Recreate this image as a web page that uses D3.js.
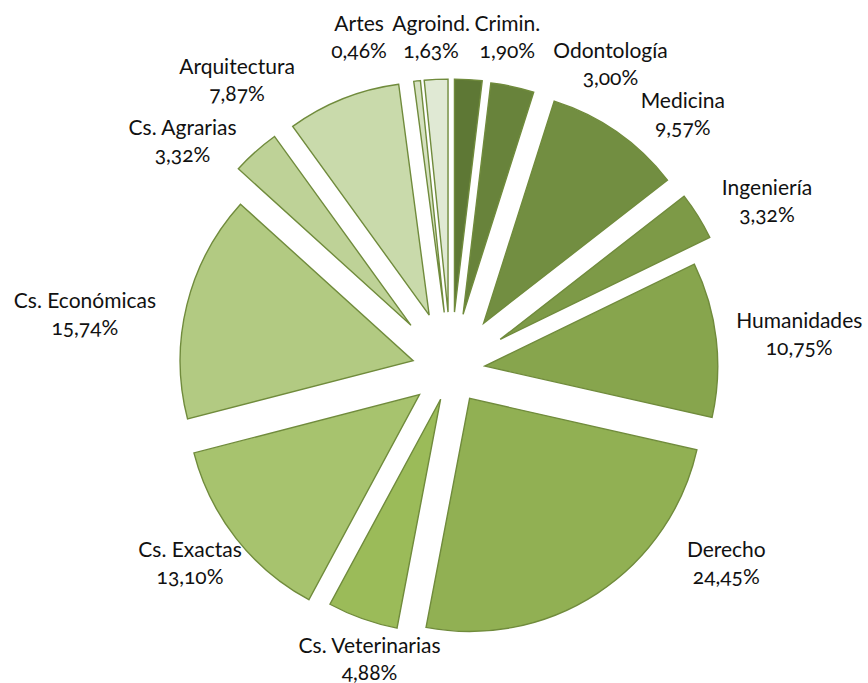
<!DOCTYPE html>
<html>
<head>
<meta charset="utf-8">
<script src="https://cdn.jsdelivr.net/npm/d3@7"></script>
<style>
  body { margin: 0; background: #fff; }
  text { font-family: Lato, "Open Sans", sans-serif; font-size: 21px; fill: #111; font-variant-numeric: oldstyle-nums; }
</style>
</head>
<body>
<script>
// areas, clockwise from 12 o'clock
var categories = ["Crimin.", "Odontología", "Medicina", "Ingeniería", "Humanidades", "Derecho",
  "Cs. Veterinarias", "Cs. Exactas", "Cs. Económicas", "Cs. Agrarias", "Arquitectura", "Artes", "Agroind."];
var values = [1.90, 3.00, 9.57, 3.32, 10.75, 24.45, 4.88, 13.10, 15.74, 3.32, 7.87, 0.46, 1.63];

// how far each slice is pulled out (px) and where its label sits relative to the slice's outer edge
var explode = [58, 57, 57, 58, 34, 34, 31, 40, 39, 60, 59, 58, 58];
var labelShift = [[39, -43], [98, -23], [66, -18], [69, -15], [83, -5], [129, -30],
  [7, 40], [-46, 25], [-102, 9], [-73, -11], [-106, -19], [-58, -44], [-5, -42]];

var width = 868, height = 683;
var cx = 451, cy = 370, radius = 233;

var svg = d3.select("body").append("svg")
  .attr("width", width)
  .attr("height", height);

var color = d3.scaleLinear()
  .domain([0, 6, 12])
  .range(["#5e7835", "#9bbb59", "#e0e9d4"]);

var pie = d3.pie().sort(null).value(d => d.value);
var arc = d3.arc().innerRadius(0).outerRadius(radius);

var data = pie(categories.map((c, i) => ({ name: c, value: values[i], i: i })));

function dir(d) {
  var a = (d.startAngle + d.endAngle) / 2;
  return [Math.sin(a), -Math.cos(a)];
}

var g = svg.append("g").attr("transform", "translate(" + cx + "," + cy + ")");

g.selectAll("path.slice")
  .data(data)
  .enter()
  .append("path")
  .attr("class", "slice")
  .attr("d", arc)
  .attr("transform", d => {
    var u = dir(d), e = explode[d.data.i];
    return "translate(" + u[0] * e + "," + u[1] * e + ")";
  })
  .attr("fill", d => color(d.data.i))
  .attr("stroke", "#708b3c")
  .attr("stroke-width", 1.4)
  .attr("stroke-linejoin", "miter");

var fmt = v => v.toFixed(2).replace(".", ",") + "%";

var labels = g.selectAll("g.lab")
  .data(data)
  .enter()
  .append("g")
  .attr("class", "lab")
  .attr("transform", d => {
    var u = dir(d), r = explode[d.data.i] + radius, s = labelShift[d.data.i];
    return "translate(" + (u[0] * r + s[0]) + "," + (u[1] * r + s[1]) + ")";
  });

labels.append("text")
  .attr("text-anchor", "middle")
  .attr("y", -6)
  .text(d => d.data.name);

labels.append("text")
  .attr("text-anchor", "middle")
  .attr("y", 21)
  .text(d => fmt(d.data.value));
</script>
</body>
</html>
